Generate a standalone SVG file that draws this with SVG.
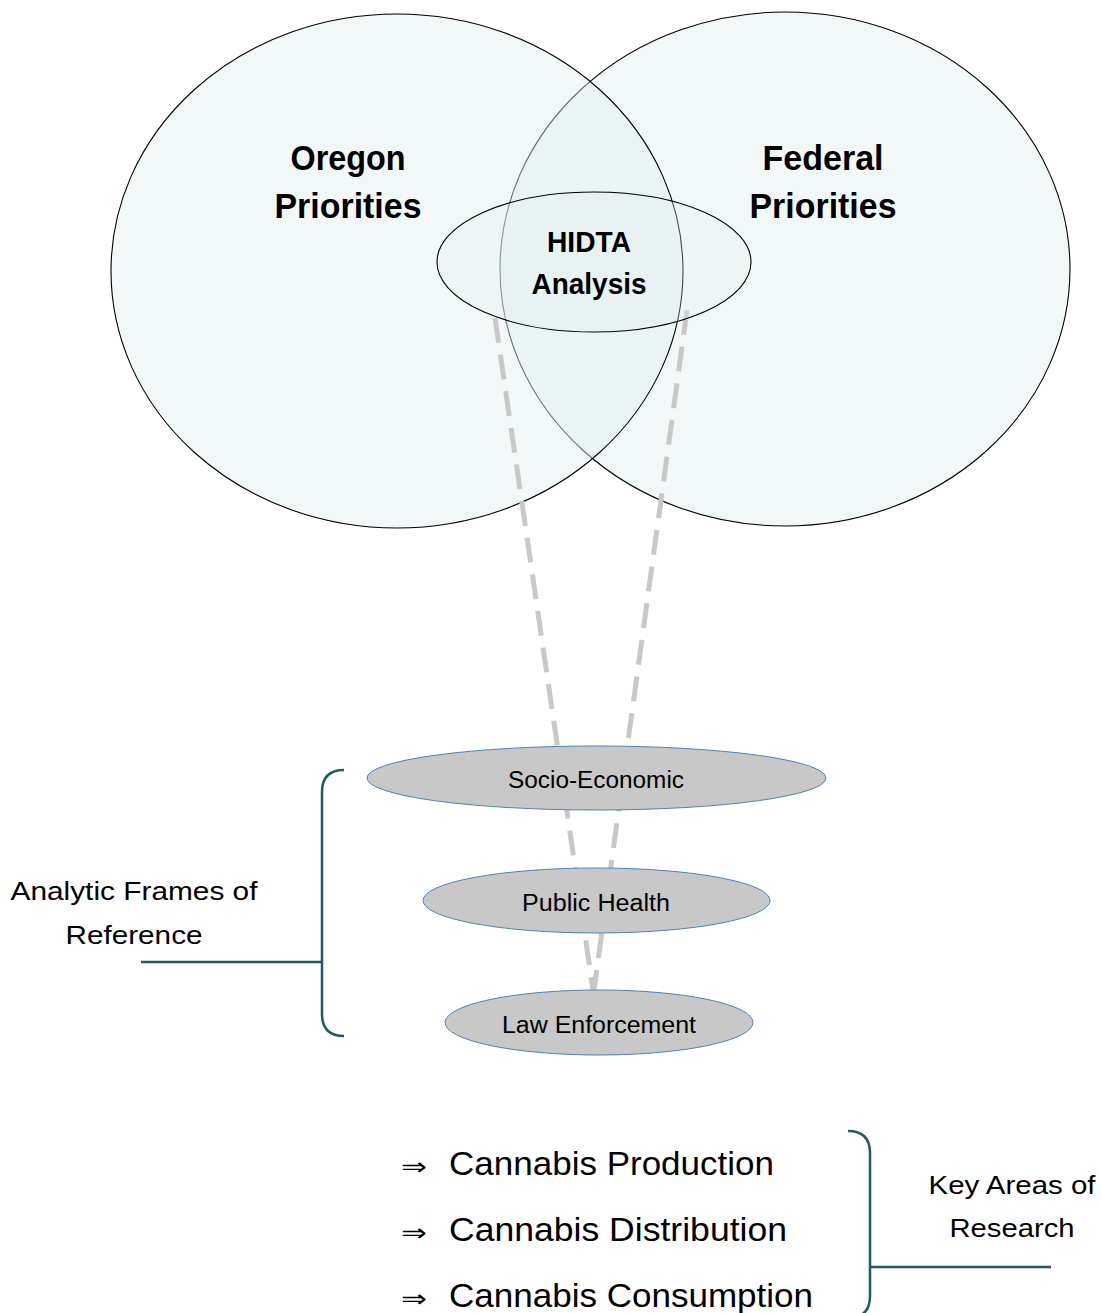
<svg xmlns="http://www.w3.org/2000/svg" width="1101" height="1313" viewBox="0 0 1101 1313">
<style>
.venn{fill:#E2EFEF;fill-opacity:0.45;stroke:#000;stroke-width:1.1}
.core{fill:#E2EFEF;fill-opacity:0.3;stroke:#000;stroke-width:1.1}
.frame{fill:#C8C8C8;stroke:#4F81BD;stroke-width:1}
.big{font-family:"Liberation Sans",Arial,sans-serif;font-weight:bold;fill:#000;text-anchor:middle}
.lbl{font-family:"Liberation Sans",Arial,sans-serif;fill:#000;text-anchor:middle}
.item{font-family:"Liberation Sans",Arial,sans-serif;fill:#000}
.arr{font-family:"DejaVu Sans",sans-serif;fill:#000}
.dash{stroke:#C8C8C8;stroke-width:5;stroke-dasharray:25 12;fill:none}
.brace{stroke:#215C64;stroke-width:2.5;fill:none}
</style>
<rect width="1101" height="1313" fill="#fff"/>
<g id="federal">
<ellipse class="venn" cx="785" cy="269" rx="285" ry="257"/>
</g>
<g id="oregon">
<ellipse class="venn" cx="397" cy="271" rx="286" ry="257"/>
</g>
<g id="connectors">
<line class="dash" x1="495" y1="318" x2="593" y2="990"/>
<line class="dash" x1="687" y1="310" x2="594" y2="990"/>
<path class="brace" d="M344,770 Q322,770 322,792 L322,1014 Q322,1036 344,1036"/>
<line class="brace" x1="141" y1="962" x2="322" y2="962"/>
<path class="brace" d="M848,1131 Q870,1131 870,1153 L870,1296 Q870,1318 848,1318"/>
<line class="brace" x1="870" y1="1267" x2="1051" y2="1267"/>
</g>
<g id="hidta">
<ellipse class="core" cx="594" cy="262" rx="157" ry="70"/>
<text class="big" x="589" y="252" font-size="30" textLength="84" lengthAdjust="spacingAndGlyphs">HIDTA</text>
<text class="big" x="589" y="294" font-size="30" textLength="115" lengthAdjust="spacingAndGlyphs">Analysis</text>
</g>
<g id="oregon-label">
<text class="big" x="348" y="170" font-size="35" textLength="115" lengthAdjust="spacingAndGlyphs">Oregon</text>
<text class="big" x="348" y="218" font-size="35" textLength="147" lengthAdjust="spacingAndGlyphs">Priorities</text>
</g>
<g id="federal-label">
<text class="big" x="823" y="170" font-size="35" textLength="121" lengthAdjust="spacingAndGlyphs">Federal</text>
<text class="big" x="823" y="218" font-size="35" textLength="147" lengthAdjust="spacingAndGlyphs">Priorities</text>
</g>
<g id="socio-economic">
<ellipse class="frame" cx="596.5" cy="778" rx="229.5" ry="32"/>
<text class="lbl" x="596" y="788" font-size="23" textLength="176" lengthAdjust="spacingAndGlyphs">Socio-Economic</text>
</g>
<g id="public-health">
<ellipse class="frame" cx="596.5" cy="900.5" rx="173.5" ry="32.5"/>
<text class="lbl" x="596" y="911" font-size="23" textLength="148" lengthAdjust="spacingAndGlyphs">Public Health</text>
</g>
<g id="law-enforcement">
<ellipse class="frame" cx="599" cy="1022.5" rx="154" ry="32.5"/>
<text class="lbl" x="599" y="1033" font-size="23" textLength="194" lengthAdjust="spacingAndGlyphs">Law Enforcement</text>
</g>
<g id="analytic-frames">
<text class="lbl" x="134" y="900" font-size="26" textLength="247" lengthAdjust="spacingAndGlyphs">Analytic Frames of</text>
<text class="lbl" x="134" y="944" font-size="26" textLength="137" lengthAdjust="spacingAndGlyphs">Reference</text>
</g>
<g id="key-areas">
<text class="lbl" x="1012" y="1194" font-size="26" textLength="167" lengthAdjust="spacingAndGlyphs">Key Areas of</text>
<text class="lbl" x="1012" y="1237" font-size="26" textLength="125" lengthAdjust="spacingAndGlyphs">Research</text>
</g>
<g id="research-list">
<text class="arr" x="401" y="1175" font-size="24" textLength="26" lengthAdjust="spacingAndGlyphs">⇒</text>
<text class="item" x="449" y="1175" font-size="34" textLength="325" lengthAdjust="spacingAndGlyphs">Cannabis Production</text>
<text class="arr" x="401" y="1241" font-size="24" textLength="26" lengthAdjust="spacingAndGlyphs">⇒</text>
<text class="item" x="449" y="1241" font-size="34" textLength="338" lengthAdjust="spacingAndGlyphs">Cannabis Distribution</text>
<text class="arr" x="401" y="1307" font-size="24" textLength="26" lengthAdjust="spacingAndGlyphs">⇒</text>
<text class="item" x="449" y="1307" font-size="34" textLength="364" lengthAdjust="spacingAndGlyphs">Cannabis Consumption</text>
</g>
</svg>
